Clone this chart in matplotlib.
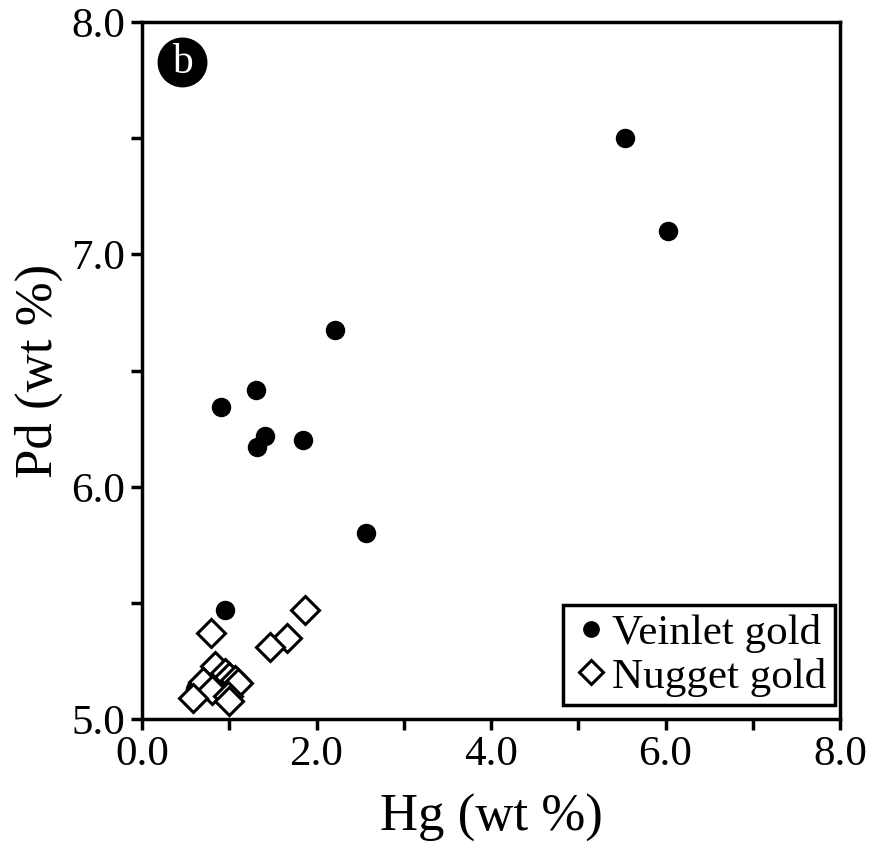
import matplotlib as mpl, matplotlib.pyplot as plt

mpl.rcParams.update({"font.family": "serif", "font.serif": ["Liberation Serif", "DejaVu Serif"],
                     "axes.linewidth": 2.5})

# Hg / Pd contents (wt %)
veinlet_hg = [5.54, 6.03, 2.21, 1.31, 0.91, 1.41, 1.32, 1.85, 2.57, 0.95, 0.61]
veinlet_pd = [7.50, 7.10, 6.675, 6.415, 6.345, 6.22, 6.17, 6.20, 5.80, 5.47, 5.13]
nugget_hg = [1.87, 1.66, 1.47, 0.79, 0.84, 0.95, 1.00, 1.07, 1.10, 0.70, 0.80, 0.58, 0.99, 1.00]
nugget_pd = [5.47, 5.35, 5.31, 5.37, 5.23, 5.20, 5.18, 5.17, 5.155, 5.16, 5.125, 5.09, 5.10, 5.08]

x_ticks = [0, 1, 2, 3, 4, 5, 6, 7, 8]
x_labels = ["0.0", "", "2.0", "", "4.0", "", "6.0", "", "8.0"]
y_ticks = [5.0, 5.5, 6.0, 6.5, 7.0, 7.5, 8.0]
y_labels = ["5.0", "", "6.0", "", "7.0", "", "8.0"]

fig = plt.figure(figsize=(8.73, 8.48), dpi=100)
ax = fig.add_axes([0.1627, 0.152, 0.7995, 0.822])

ax.plot(veinlet_hg, veinlet_pd, "o", ms=13, color="black", mec="black", ls="none",
        label="Veinlet gold", zorder=3)
ax.plot(nugget_hg, nugget_pd, "D", ms=14, mfc="white", mec="black", mew=2.2, ls="none",
        label="Nugget gold", zorder=4, clip_on=False)

ax.set_xlim(0, 8); ax.set_ylim(5, 8)
ax.set_xticks(x_ticks); ax.set_xticklabels(x_labels)
ax.set_yticks(y_ticks); ax.set_yticklabels(y_labels)
ax.tick_params(direction="out", length=8, width=2.5, labelsize=31, pad=4)
ax.set_xlabel("Hg (wt %)", fontsize=38, labelpad=14)
ax.set_ylabel("Pd (wt %)", fontsize=38, labelpad=6)

leg = ax.legend(loc="lower right", bbox_to_anchor=(0.993, 0.02), fontsize=31, frameon=True,
                fancybox=False, framealpha=1, handletextpad=0.05, handlelength=0.9,
                borderpad=0.2, labelspacing=0.1, borderaxespad=0, markerscale=0.85)
leg.get_frame().set_edgecolor("black"); leg.get_frame().set_linewidth(2.5)

ax.text(0.058, 0.942, "b", transform=ax.transAxes, ha="center", va="center",
        fontsize=30, color="white",
        bbox=dict(boxstyle="circle,pad=0.12", fc="black", ec="black"))

fig.savefig("out.png", dpi=100)
